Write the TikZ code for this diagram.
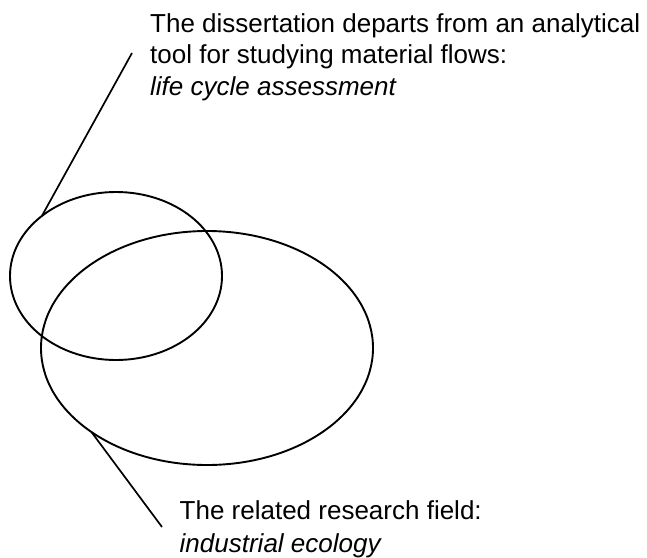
\documentclass[tikz,border=0pt]{standalone}
\usepackage{fontspec}
\setmainfont{Liberation Sans}
\usetikzlibrary{shapes.geometric}
\begin{document}
\begin{tikzpicture}[x=1pt,y=-1pt,
  oval/.style={ellipse,draw,line width=1.9pt,inner sep=0pt,outer sep=0pt},
  lbl/.style={anchor=base west,inner sep=0pt,font=\fontsize{26}{32}\selectfont},
  leader/.style={line width=1.7pt}]
\useasboundingbox (0,0) rectangle (647,557);
\node[oval,minimum width=212pt,minimum height=168pt] (lca) at (116,276) {};
\node[oval,minimum width=332pt,minimum height=234pt] (ie) at (207,348) {};
\node[lbl] (t1) at (150,32) {The dissertation departs from an analytical};
\node[lbl] (t2) at (150,63.5) {tool for studying material flows:};
\node[lbl] (t3) at (150,95) {\itshape life cycle assessment};
\node[lbl] (b1) at (179.5,519) {The related research field:};
\node[lbl] (b2) at (179.5,552) {\itshape industrial ecology};
\coordinate (e1) at (132,53);
\coordinate (e2) at (162,527);
\draw[leader] (lca.141) -- (e1);
\draw[leader] (ie.216) -- (e2);
\end{tikzpicture}
\end{document}
